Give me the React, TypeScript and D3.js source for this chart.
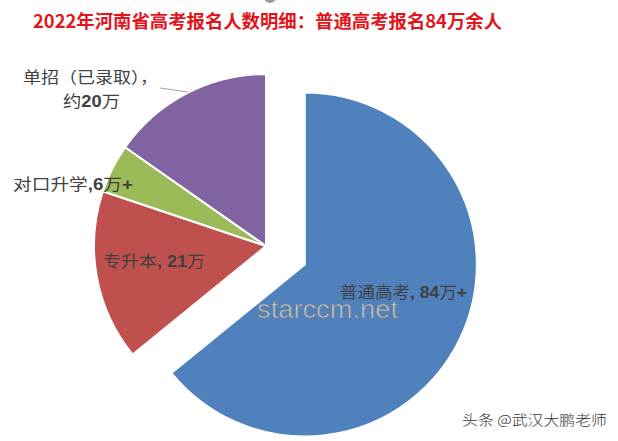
import React from "react";
import * as d3 from "d3";

const categories = ["普通高考", "专升本", "对口升学", "单招（已录取）"];
const values = [84, 21, 6, 20];
const colors = ["#4F81BD", "#C0504D", "#9BBB59", "#8064A2"];
const titleText = "2022年河南省高考报名人数明细：普通高考报名84万余人";

const W = 618;
const H = 441;
const cx = 266;
const cy = 246;
const R = 172;

export default function App() {
  const pie = d3
    .pie<number>()
    .sort(null)
    .startAngle(0)
    .endAngle(2 * Math.PI)
    .value((d) => d);
  const arcs = pie(values);
  const arcGen = d3.arc<d3.PieArcDatum<number>>().innerRadius(0).outerRadius(R);
  const explode = 43;

  const lab = "#404040";
  const cjk = "'Noto Sans CJK SC', sans-serif";
  const num = "'Liberation Sans', Arial, sans-serif";

  return (
    <div style={{ position: "absolute", left: 0, top: 0 }}>
      <style>{`body{margin:0}`}</style>
      <svg width={W} height={H} style={{ display: "block", background: "#fff" }}>
        <circle cx={270} cy={-3} r={6} fill="#9a9a9a" />
        <text
          x={33}
          y={28}
          fontSize={18}
          fontWeight="bold"
          fill="#E3141C"
          fontFamily={cjk}
          textLength={469}
          lengthAdjust="spacingAndGlyphs"
        >
          {titleText}
        </text>
        <g>
          {arcs.map((a, i) => {
            const mid = (a.startAngle + a.endAngle) / 2;
            const off = i === 0 ? explode : 0;
            const dx = Math.sin(mid) * off;
            const dy = -Math.cos(mid) * off;
            return (
              <path
                key={categories[i]}
                d={arcGen(a) || ""}
                transform={`translate(${cx + dx},${cy + dy})`}
                fill={colors[i]}
                stroke="#fff"
                strokeWidth={2}
              />
            );
          })}
        </g>
        <line x1={160} y1={88} x2={188} y2={92} stroke="#8c8c8c" strokeWidth={0.8} />
        <g fontFamily={cjk} fontSize={16} fill={lab}>
          <text x={23} y={83} textLength={135} lengthAdjust="spacingAndGlyphs">
            单招（已录取），
          </text>
          <text x={63} y={107} textLength={57} lengthAdjust="spacingAndGlyphs">
            约<tspan fontWeight="bold" fontFamily={num}>20</tspan>万
          </text>
          <text x={13} y={190} textLength={120} lengthAdjust="spacingAndGlyphs">
            对口升学<tspan fontWeight="bold" fontFamily={num}>,6</tspan>万
            <tspan fontWeight="bold" fontFamily={num}>+</tspan>
          </text>
          <text x={103} y={267} textLength={102} lengthAdjust="spacingAndGlyphs">
            专升本<tspan fontWeight="bold" fontFamily={num}>, 21</tspan>万
          </text>
          <text x={340} y={298} textLength={127} lengthAdjust="spacingAndGlyphs">
            普通高考<tspan fontWeight="bold" fontFamily={num}>, 84</tspan>万
            <tspan fontWeight="bold" fontFamily={num}>+</tspan>
          </text>
        </g>
        <text
          x={257}
          y={318}
          fontSize={26}
          fontFamily="'Liberation Sans', Arial, sans-serif"
          fill="#b9c0c8"
          stroke="#6f7884"
          strokeWidth={0.6}
          textLength={141}
          lengthAdjust="spacingAndGlyphs"
        >
          starccm.net
        </text>
        <text
          x={462}
          y={425}
          fontSize={14}
          fontFamily={cjk}
          fontWeight={300}
          fill="#333"
          textLength={145}
          lengthAdjust="spacingAndGlyphs"
        >
          头条 @武汉大鹏老师
        </text>
      </svg>
    </div>
  );
}
